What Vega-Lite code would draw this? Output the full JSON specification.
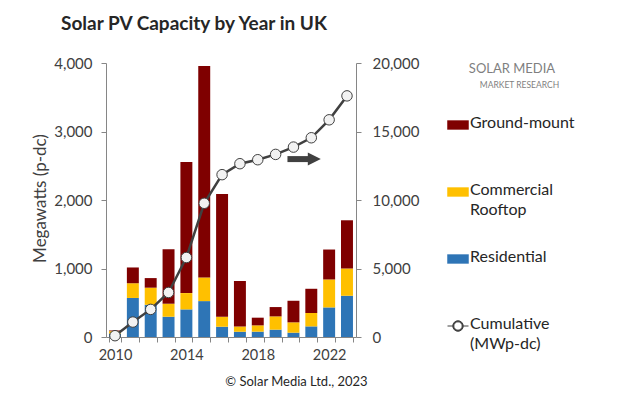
{
  "$schema": "https://vega.github.io/schema/vega-lite/v6.json",
  "width": 250,
  "height": 274,
  "autosize": {"type": "none"},
  "padding": {"left": 106, "top": 63, "right": 268, "bottom": 59},
  "background": "white",
  "config": {
    "font": "Lato",
    "view": {"stroke": null},
    "axis": {"labelFont": "Lato", "titleFont": "Lato", "labelColor": "#404040", "titleColor": "#404040", "domainColor": "#868686", "tickColor": "#868686", "grid": false, "titleFontWeight": "normal"}
  },
  "title": {"text": "Solar PV Capacity by Year in UK", "font": "Lato", "fontSize": 19, "fontWeight": "bold", "color": "#262626", "anchor": "start", "frame": "group", "dx": -45, "offset": 22},
  "datasets": {
    "bars": [
      {"year": 2010, "type": "Residential", "rank": 1, "mw": 50}, {"year": 2010, "type": "Commercial Rooftop", "rank": 2, "mw": 35}, {"year": 2010, "type": "Ground-mount", "rank": 3, "mw": 10},
      {"year": 2011, "type": "Residential", "rank": 1, "mw": 570}, {"year": 2011, "type": "Commercial Rooftop", "rank": 2, "mw": 215}, {"year": 2011, "type": "Ground-mount", "rank": 3, "mw": 230},
      {"year": 2012, "type": "Residential", "rank": 1, "mw": 470}, {"year": 2012, "type": "Commercial Rooftop", "rank": 2, "mw": 250}, {"year": 2012, "type": "Ground-mount", "rank": 3, "mw": 140},
      {"year": 2013, "type": "Residential", "rank": 1, "mw": 296}, {"year": 2013, "type": "Commercial Rooftop", "rank": 2, "mw": 190}, {"year": 2013, "type": "Ground-mount", "rank": 3, "mw": 795},
      {"year": 2014, "type": "Residential", "rank": 1, "mw": 403}, {"year": 2014, "type": "Commercial Rooftop", "rank": 2, "mw": 238}, {"year": 2014, "type": "Ground-mount", "rank": 3, "mw": 1913},
      {"year": 2015, "type": "Residential", "rank": 1, "mw": 524}, {"year": 2015, "type": "Commercial Rooftop", "rank": 2, "mw": 345}, {"year": 2015, "type": "Ground-mount", "rank": 3, "mw": 3088},
      {"year": 2016, "type": "Residential", "rank": 1, "mw": 150}, {"year": 2016, "type": "Commercial Rooftop", "rank": 2, "mw": 146}, {"year": 2016, "type": "Ground-mount", "rank": 3, "mw": 1792},
      {"year": 2017, "type": "Residential", "rank": 1, "mw": 78}, {"year": 2017, "type": "Commercial Rooftop", "rank": 2, "mw": 77}, {"year": 2017, "type": "Ground-mount", "rank": 3, "mw": 661},
      {"year": 2018, "type": "Residential", "rank": 1, "mw": 78}, {"year": 2018, "type": "Commercial Rooftop", "rank": 2, "mw": 92}, {"year": 2018, "type": "Ground-mount", "rank": 3, "mw": 112},
      {"year": 2019, "type": "Residential", "rank": 1, "mw": 107}, {"year": 2019, "type": "Commercial Rooftop", "rank": 2, "mw": 194}, {"year": 2019, "type": "Ground-mount", "rank": 3, "mw": 136},
      {"year": 2020, "type": "Residential", "rank": 1, "mw": 63}, {"year": 2020, "type": "Commercial Rooftop", "rank": 2, "mw": 151}, {"year": 2020, "type": "Ground-mount", "rank": 3, "mw": 315},
      {"year": 2021, "type": "Residential", "rank": 1, "mw": 155}, {"year": 2021, "type": "Commercial Rooftop", "rank": 2, "mw": 195}, {"year": 2021, "type": "Ground-mount", "rank": 3, "mw": 354},
      {"year": 2022, "type": "Residential", "rank": 1, "mw": 432}, {"year": 2022, "type": "Commercial Rooftop", "rank": 2, "mw": 408}, {"year": 2022, "type": "Ground-mount", "rank": 3, "mw": 437},
      {"year": 2023, "type": "Residential", "rank": 1, "mw": 602}, {"year": 2023, "type": "Commercial Rooftop", "rank": 2, "mw": 398}, {"year": 2023, "type": "Ground-mount", "rank": 3, "mw": 704}
    ],
    "cum": [
      {"year": 2010, "cum": 95}, {"year": 2011, "cum": 1092}, {"year": 2012, "cum": 2015}, {"year": 2013, "cum": 3252},
      {"year": 2014, "cum": 5802}, {"year": 2015, "cum": 9760}, {"year": 2016, "cum": 11849}, {"year": 2017, "cum": 12649},
      {"year": 2018, "cum": 12940}, {"year": 2019, "cum": 13328}, {"year": 2020, "cum": 13862}, {"year": 2021, "cum": 14543},
      {"year": 2022, "cum": 15853}, {"year": 2023, "cum": 17600}
    ]
  },
  "layer": [
    {
      "data": {"name": "bars"},
      "mark": {"type": "bar"},
      "encoding": {
        "x": {"field": "year", "type": "ordinal", "scale": {"paddingInner": 0.33, "paddingOuter": 0.17},
          "axis": {"labelAngle": 0, "labelFontSize": 14.5, "labelPadding": 6, "tickBand": "extent", "tickSize": 5, "labelExpr": "datum.value % 4 == 2 ? datum.label : ''",
            "title": "© Solar Media Ltd., 2023", "titleFontSize": 13, "titleColor": "#262626", "titleX": 190, "titleY": 44, "titleBaseline": "middle", "titleAlign": "center", "titleAnchor": null}},
        "y": {"field": "mw", "type": "quantitative", "stack": "zero", "scale": {"domain": [0, 4000], "nice": false},
          "axis": {"values": [0, 1000, 2000, 3000, 4000], "format": ",.0f", "labelFontSize": 15, "labelPadding": 9, "tickSize": 5,
            "title": "Megawatts (p-dc)", "titleFontSize": 17, "titleX": -66, "titleY": 135, "titleAngle": -90, "titleAlign": "center", "titleBaseline": "middle"}},
        "order": {"field": "rank", "type": "quantitative", "sort": "ascending"},
        "color": {"field": "type", "type": "nominal",
          "scale": {"domain": ["Residential", "Commercial Rooftop", "Ground-mount", "Cumulative"], "range": ["#2E75B6", "#FFC000", "#7F0000", "#404040"]},
          "legend": {
            "orient": "none", "legendX": 344, "legendY": 0,
            "title": "SOLAR MEDIA", "titleFont": "Lato", "titleFontSize": 13, "titleFontWeight": "normal", "titleColor": "#7f7f7f", "titleAnchor": "middle", "titlePadding": 41,
            "values": ["Ground-mount", "Commercial Rooftop", "Residential", "Cumulative"],
            "labelFont": "Lato", "labelFontSize": 16, "labelColor": "#262626", "labelBaseline": "top", "labelOffset": 4,
            "labelExpr": "datum.label == 'Commercial Rooftop' ? ['Commercial', 'Rooftop'] : datum.label == 'Cumulative' ? ['Cumulative', '(MWp-dc)'] : [datum.label, '']",
            "rowPadding": 31, "symbolSize": 441, "symbolOffset": 0,
            "encode": {
              "symbols": {"update": {
                "shape": {"signal": "datum.value === 'Cumulative' ? 'M-1,0H-0.5M0.5,0H1M0.5,0A0.5,0.5 0 1,1 -0.5,0A0.5,0.5 0 1,1 0.5,0ZM0.4,0A0.4,0.4 0 1,0 -0.4,0A0.4,0.4 0 1,0 0.4,0Z' : 'M-1,-0.42H1V0.42H-1Z'"},
                "fill": {"signal": "datum.value === 'Cumulative' ? '#404040' : scale('color', datum.value)"},
                "fillOpacity": {"value": 1},
                "stroke": {"signal": "datum.value === 'Cumulative' ? '#404040' : scale('color', datum.value)"},
                "strokeWidth": {"signal": "datum.value === 'Cumulative' ? 1 : 0.5"},
                "opacity": {"value": 1}
              }},
              "labels": {"update": {"dy": {"value": -10}, "lineHeight": {"value": 20}}}
            }
          }}
      }
    },
    {
      "layer": [
        {
          "data": {"name": "cum"},
          "mark": {"type": "line", "strokeWidth": 2.5},
          "encoding": {
            "x": {"field": "year", "type": "ordinal"},
            "y": {"field": "cum", "type": "quantitative", "scale": {"domain": [0, 20000], "nice": false},
              "axis": {"orient": "right", "values": [0, 5000, 10000, 15000, 20000], "format": ",.0f", "labelFontSize": 15, "labelPadding": 11, "tickSize": 5,
                "title": "MARKET RESEARCH", "titleFontSize": 8.5, "titleColor": "#7f7f7f", "titleAngle": 0, "titleX": 163, "titleY": 21, "titleAlign": "center", "titleBaseline": "middle"}},
            "color": {"datum": "Cumulative", "type": "nominal"}
          }
        },
        {
          "data": {"name": "cum"},
          "mark": {"type": "point", "filled": true, "fill": "#f2f2f2", "stroke": "#404040", "strokeWidth": 1, "size": 110, "opacity": 1},
          "encoding": {
            "x": {"field": "year", "type": "ordinal"},
            "y": {"field": "cum", "type": "quantitative"}
          }
        },
        {
          "data": {"values": [{}]},
          "mark": {"type": "rule", "strokeWidth": 6, "color": "#404040", "xOffset": -6},
          "encoding": {
            "x": {"datum": 2020, "type": "ordinal"},
            "x2": {"datum": 2021},
            "y": {"datum": 12986, "type": "quantitative"}
          }
        },
        {
          "data": {"values": [{}]},
          "mark": {"type": "point", "shape": "M-1,-1L1,0L-1,1Z", "filled": true, "color": "#404040", "size": 169, "opacity": 1, "xOffset": 3},
          "encoding": {
            "x": {"datum": 2021, "type": "ordinal"},
            "y": {"datum": 12986, "type": "quantitative"}
          }
        }
      ]
    }
  ],
  "resolve": {"scale": {"y": "independent"}}
}
